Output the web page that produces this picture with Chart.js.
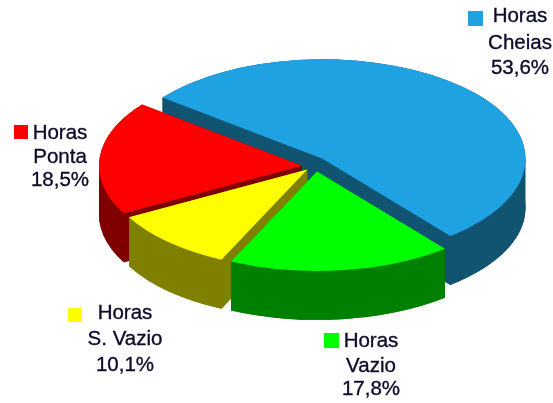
<!DOCTYPE html>
<html>
<head>
<meta charset="utf-8">
<script src="https://cdn.jsdelivr.net/npm/chart.js@4"></script>
<style>
html,body{margin:0;padding:0;background:#fff;}
canvas{display:block;filter:blur(0.55px);}
</style>
</head>
<body>
<canvas id="c" width="553" height="403"></canvas>
<script>
const categories = ["Horas Cheias", "Horas Vazio", "Horas S. Vazio", "Horas Ponta"];
const values = [53.6, 17.8, 10.1, 18.5];
const valueLabels = ["53,6%", "17,8%", "10,1%", "18,5%"];
const labelLines = [["Horas", "Cheias"], ["Horas", "Vazio"], ["Horas", "S. Vazio"], ["Horas", "Ponta"]];
const topColors = ["#1fa2e2", "#00ff00", "#ffff00", "#ff0000"];
const sideColors = ["#115472", "#008000", "#808000", "#7f0000"];
const explodeX = [10.5, 5, -4.7, -10];
const explodeY = [-5.2, 7.4, 5.6, 1.7];
const wallOrder = [0, 3, 2, 1];

const TILT = 0.49, DEPTH = 49, FONT = '20.5px "Liberation Sans", Arial, sans-serif';
// text centre x, first-line y, line pitches, swatch x/y/size
const labelBoxes = [
  {x: 520, y: 16, gaps: [27, 25], sx: 468, sy: 11, s: 15},
  {x: 371, y: 341, gaps: [25, 23], sx: 324, sy: 333, s: 15},
  {x: 125, y: 313, gaps: [26, 26], sx: 68, sy: 308, s: 14},
  {x: 60, y: 133, gaps: [24, 23], sx: 14, sy: 125, s: 14}
];

const pie3d = {
  id: "pie3d",
  afterDatasetsUpdate(chart) {
    chart.getDatasetMeta(0).data.forEach((arc, i) => {
      arc.x += explodeX[i];
      arc.y += explodeY[i] / TILT;
    });
  },
  beforeDatasetsDraw(chart) {
    const {ctx, chartArea: a} = chart;
    const cy = (a.top + a.bottom) / 2;
    ctx.save();
    ctx.translate(0, cy);
    ctx.scale(1, TILT);
    ctx.translate(0, -cy);
    const arcs = chart.getDatasetMeta(0).data;
    const d = DEPTH / TILT;
    wallOrder.forEach(i => {
      const {x, y, outerRadius: r, startAngle: s, endAngle: e} = arcs[i];
      ctx.fillStyle = sideColors[i];
      // bottom face
      ctx.beginPath();
      ctx.moveTo(x, y + d);
      ctx.arc(x, y + d, r, s, e);
      ctx.closePath();
      ctx.fill();
      // rim
      ctx.beginPath();
      ctx.arc(x, y, r, s, e);
      ctx.arc(x, y + d, r, e, s, true);
      ctx.closePath();
      ctx.fill();
      // cut faces, plus the silhouette edges where the rim turns back
      const faces = [s, e];
      for (let n = -2; n <= 3; n++) {
        const t = n * Math.PI;
        if (t > s && t < e) faces.push(t);
      }
      faces.forEach(t => {
        const px = x + Math.cos(t) * r, py = y + Math.sin(t) * r;
        ctx.beginPath();
        ctx.moveTo(x, y);
        ctx.lineTo(px, py);
        ctx.lineTo(px, py + d);
        ctx.lineTo(x, y + d);
        ctx.closePath();
        ctx.fill();
      });
    });
  },
  afterDatasetsDraw(chart) {
    chart.ctx.restore();
  },
  afterDraw(chart) {
    const ctx = chart.ctx;
    ctx.save();
    ctx.font = FONT;
    ctx.textAlign = "center";
    ctx.textBaseline = "middle";
    ctx.lineWidth = 0.35;
    labelBoxes.forEach((b, i) => {
      ctx.fillStyle = topColors[i];
      ctx.fillRect(b.sx, b.sy, b.s, b.s);
      ctx.fillStyle = ctx.strokeStyle = "#0c0c2c";
      const lines = [...labelLines[i], valueLabels[i]];
      let y = b.y;
      lines.forEach((t, j) => {
        ctx.fillText(t, b.x, y);
        ctx.strokeText(t, b.x, y);
        y += b.gaps[j] || 0;
      });
    });
    ctx.restore();
  }
};

new Chart(document.getElementById("c"), {
  type: "pie",
  data: {
    labels: categories,
    datasets: [{
      data: values,
      backgroundColor: topColors,
      borderWidth: 0,
      radius: 203,
      clip: false
    }]
  },
  options: {
    responsive: false,
    animation: false,
    rotation: -52,
    layout: {padding: {left: 71, bottom: 75}},
    plugins: {legend: {display: false}, tooltip: {enabled: false}}
  },
  plugins: [pie3d]
});
</script>
</body>
</html>
